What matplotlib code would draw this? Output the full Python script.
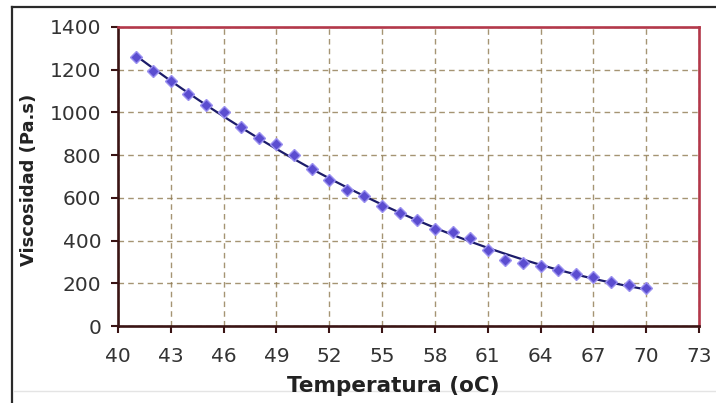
import numpy as np
import matplotlib.pyplot as plt
from matplotlib.lines import Line2D

# data
temperatura = [41, 42, 43, 44, 45, 46, 47, 48, 49, 50,
               51, 52, 53, 54, 55, 56, 57, 58, 59, 60,
               61, 62, 63, 64, 65, 66, 67, 68, 69, 70]
viscosidad = [1258, 1192, 1148, 1088, 1034, 1000, 930, 880, 851, 800,
              736, 685, 635, 609, 560, 531, 494, 455, 442, 410,
              356, 310, 297, 283, 262, 244, 229, 207, 192, 176]
x_ticks = [40, 43, 46, 49, 52, 55, 58, 61, 64, 67, 70, 73]
y_ticks = [0, 200, 400, 600, 800, 1000, 1200, 1400]

W, H = 716, 403
fig = plt.figure(figsize=(W / 100, H / 100), dpi=100)
fig.patch.set_facecolor('white')
ax = fig.add_axes([118 / W, 1 - 326 / H, 581 / W, 299 / H])

# outer frame of the original image
fig.add_artist(Line2D([12 / W, 12 / W], [0, 1 - 7 / H], transform=fig.transFigure, color='#2a2a2a', lw=1.6))
fig.add_artist(Line2D([12 / W, 1], [1 - 7 / H, 1 - 7 / H], transform=fig.transFigure, color='#2a2a2a', lw=1.6))
fig.add_artist(Line2D([14 / W, 1], [1 - 391 / H, 1 - 391 / H], transform=fig.transFigure, color='#e4e4e4', lw=1))

# polynomial trend line through the points
coef = np.polyfit(temperatura, viscosidad, 2)
tt = np.linspace(temperatura[0], temperatura[-1], 200)
ax.plot(tt, np.polyval(coef, tt), color='#1c1c6a', lw=1.6, zorder=3)
ax.plot(temperatura, viscosidad, linestyle='none', marker='D', ms=6.5,
        color='#5b4dd0', markeredgecolor='#9a90f0', markeredgewidth=1, zorder=4)

ax.set_xlim(40, 73)
ax.set_ylim(0, 1400)
ax.set_xticks(x_ticks)
ax.set_yticks(y_ticks)
ax.grid(True, color='#8f7a50', linestyle=(0, (4, 3)), lw=1.0, alpha=0.8)
ax.set_axisbelow(True)

for s in ['left', 'bottom']:
    ax.spines[s].set_color('#3a1414')
    ax.spines[s].set_linewidth(1.9)
for s in ['top', 'right']:
    ax.spines[s].set_color('#b3384a')
    ax.spines[s].set_linewidth(1.9)

ax.tick_params(axis='both', direction='out', length=5, width=1.5, color='#3a1414',
               labelsize=14.5, labelcolor='#333333')
ax.tick_params(axis='y', pad=7)
ax.tick_params(axis='x', pad=10)

fig.text(393 / W, 1 - 386 / H, 'Temperatura (oC)', ha='center', va='center',
         fontsize=15.5, fontweight='bold', color='#222222')
fig.text(29 / W, 1 - 180 / H, 'Viscosidad (Pa.s)', ha='center', va='center',
         rotation=90, fontsize=13, fontweight='bold', color='#222222')

fig.savefig('out.png', dpi=100)
